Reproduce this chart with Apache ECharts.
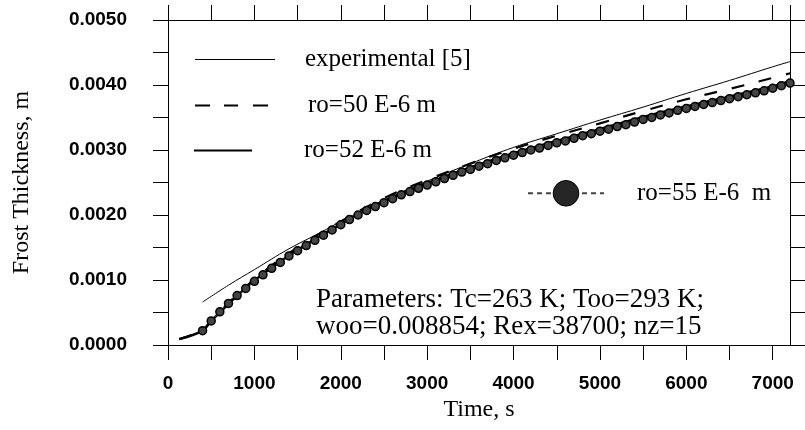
<!DOCTYPE html>
<html>
<head>
<meta charset="utf-8">
<script src="https://cdn.jsdelivr.net/npm/echarts@6/dist/echarts.min.js"></script>
<style>html,body{margin:0;padding:0;background:#fff}#c{width:805px;height:430px}</style>
</head>
<body>
<div id="c"></div>
<script>
// Experimental curve [5]
const expTime = [400, 700, 1000, 1400, 1750, 2000, 2500, 3000, 3500, 4000, 4500, 5000, 5500, 6000, 6500, 7000, 7200];
const expValue = [0.00066, 0.00092, 0.00116, 0.00148, 0.00172, 0.00190, 0.00223, 0.00252, 0.00279, 0.00304, 0.00325, 0.00346, 0.00366, 0.00387, 0.00407, 0.00428, 0.00436];

// ro = 50 E-6 m (dashed)
const r50Time = [130, 400, 500, 1000, 1500, 2000, 2500, 3000, 3500, 4000, 4500, 5000, 5500, 6000, 6500, 7000, 7200];
const r50Value = [0.00009, 0.00023, 0.00038, 0.00101, 0.00150, 0.00190, 0.00226, 0.00254, 0.00279, 0.00302, 0.00322, 0.00341, 0.00360, 0.00378, 0.00394, 0.00411, 0.00418];

// ro = 52 E-6 m (solid thick)
const r52Time = [130, 400, 500, 1000, 1500, 2000, 2500, 3000, 3500, 4000, 4500, 5000, 5500, 6000, 6500, 7000, 7200];
const r52Value = [0.00009, 0.00022, 0.00037, 0.00099, 0.00146, 0.00186, 0.00221, 0.00249, 0.00273, 0.00295, 0.00314, 0.00332, 0.00351, 0.00367, 0.00382, 0.00398, 0.00406];

// ro = 55 E-6 m (circles)
const r55Time = [400, 500, 600, 700, 800, 900, 1000, 1100, 1200, 1300, 1400, 1500, 1600, 1700, 1800, 1900,
  2000, 2100, 2200, 2300, 2400, 2500, 2600, 2700, 2800, 2900, 3000, 3100, 3200, 3300, 3400, 3500, 3600, 3700, 3800, 3900,
  4000, 4100, 4200, 4300, 4400, 4500, 4600, 4700, 4800, 4900, 5000, 5100, 5200, 5300, 5400, 5500, 5600, 5700, 5800, 5900,
  6000, 6100, 6200, 6300, 6400, 6500, 6600, 6700, 6800, 6900, 7000, 7100, 7200];
const r55Value = [0.00022, 0.00037, 0.00051, 0.00064, 0.00076, 0.00087, 0.00098, 0.00108, 0.00118, 0.00127, 0.00137, 0.00145, 0.00153, 0.00161, 0.00169, 0.00177,
  0.00185, 0.00193, 0.00200, 0.00207, 0.00213, 0.00219, 0.00225, 0.00231, 0.00236, 0.00241, 0.00246, 0.00251, 0.00256, 0.00261, 0.00266, 0.00270, 0.00275, 0.00279, 0.00284, 0.00288,
  0.00292, 0.00296, 0.00300, 0.00303, 0.00307, 0.00311, 0.00314, 0.00318, 0.00322, 0.00325, 0.00329, 0.00332, 0.00336, 0.00339, 0.00343, 0.00347, 0.00350, 0.00354, 0.00357, 0.00361,
  0.00364, 0.00367, 0.00370, 0.00373, 0.00376, 0.00379, 0.00382, 0.00385, 0.00388, 0.00391, 0.00395, 0.00399, 0.00403];

const seriesNames = ['experimental [5]', 'ro=50 E-6 m', 'ro=52 E-6 m', 'ro=55 E-6  m'];
const xLabelTicks = [0, 1000, 2000, 3000, 4000, 5000, 6000, 7000];
const paramLines = ['Parameters: Tc=263 K; Too=293 K;', 'woo=0.008854; Rex=38700; nz=15'];

const zip = (t, v) => t.map((x, i) => [x, v[i]]);

const tickFont = "'Liberation Sans', Arial, sans-serif";
const serif = "'Liberation Serif', 'Times New Roman', serif";

const chart = echarts.init(document.getElementById('c'), null, {renderer: 'canvas'});

const legendBase = {
  orient: 'horizontal', padding: 0, itemGap: 0, selectedMode: false,
  itemStyle: {borderWidth: 0},
  textStyle: {fontFamily: serif, fontSize: 25, color: '#000'}
};

const axisLineStyle = {show: true, onZero: false, lineStyle: {color: '#000', width: 1}};
const axisTickStyle = {show: true, inside: false, length: 15, lineStyle: {color: '#000', width: 1}};

const option = {
  backgroundColor: '#fff',
  animation: false,
  grid: {left: 168, right: 15, top: 20, bottom: 85, containLabel: false},
  xAxis: [{
    type: 'value', min: 0, max: 7200, interval: 500, position: 'bottom',
    name: 'Time, s', nameLocation: 'middle', nameGap: 52,
    nameTextStyle: {fontFamily: serif, fontSize: 24, color: '#000'},
    axisLine: axisLineStyle,
    axisTick: axisTickStyle,
    axisLabel: {
      margin: 29, fontFamily: tickFont, fontWeight: 'bold', fontSize: 19, color: '#000',
      formatter: v => xLabelTicks.indexOf(v) >= 0 ? String(v) : '',
      showMaxLabel: false
    },
    splitLine: {show: false}
  }, {
    type: 'value', min: 0, max: 7200, interval: 500, position: 'top',
    axisLine: axisLineStyle,
    axisTick: axisTickStyle,
    axisLabel: {show: false},
    splitLine: {show: false}
  }],
  yAxis: [{
    type: 'value', min: 0, max: 0.005, interval: 0.0005, position: 'left',
    name: 'Frost Thickness, m', nameLocation: 'middle', nameGap: 134, nameRotate: 90,
    nameTextStyle: {fontFamily: serif, fontSize: 24, color: '#000'},
    axisLine: axisLineStyle,
    axisTick: axisTickStyle,
    axisLabel: {
      margin: 41, fontFamily: tickFont, fontWeight: 'bold', fontSize: 19, color: '#000',
      formatter: v => (Math.round(v * 10000) % 10 === 0) ? v.toFixed(4) : ''
    },
    splitLine: {show: false}
  }, {
    type: 'value', min: 0, max: 0.005, interval: 0.0005, position: 'right',
    axisLine: axisLineStyle,
    axisTick: axisTickStyle,
    axisLabel: {show: false},
    splitLine: {show: false}
  }],
  legend: [
    Object.assign({}, legendBase, {
      data: [{name: seriesNames[0], icon: 'path://M0,0H80V1H0Z'}],
      left: 195, top: 47, itemWidth: 80, itemHeight: 26,
      textStyle: Object.assign({}, legendBase.textStyle, {padding: [0, 0, 0, 25]})
    }),
    Object.assign({}, legendBase, {
      data: [{name: seriesNames[1], icon: 'path://M0,0H15V2H0Z M29,0H43V2H29Z M58,0H73V2H58Z'}],
      left: 195, top: 93, itemWidth: 73, itemHeight: 26,
      textStyle: Object.assign({}, legendBase.textStyle, {padding: [0, 0, 0, 35]})
    }),
    Object.assign({}, legendBase, {
      data: [{name: seriesNames[2], icon: 'path://M0,0H58V2H0Z'}],
      left: 194, top: 138, itemWidth: 58, itemHeight: 26,
      textStyle: Object.assign({}, legendBase.textStyle, {padding: [0, 0, 0, 47]})
    }),
    Object.assign({}, legendBase, {
      data: [{name: seriesNames[3], itemStyle: {color: '#262626', borderColor: '#000', borderWidth: 1}}],
      left: 527, top: 180, itemWidth: 76, itemHeight: 32,
      textStyle: Object.assign({}, legendBase.textStyle, {padding: [0, 0, 0, 28]})
    })
  ],
  graphic: [{
    type: 'text', left: 316, top: 286, silent: true,
    style: {
      text: paramLines.join('\n'), font: "27px 'Liberation Serif', serif", fill: '#000', lineHeight: 27
    }
  }],
  series: [{
    name: seriesNames[0], type: 'line', data: zip(expTime, expValue), smooth: 0.4,
    symbol: 'none', color: '#000', z: 3,
    lineStyle: {color: '#000', width: 1}
  }, {
    name: seriesNames[1], type: 'line', data: zip(r50Time, r50Value), smooth: 0.4,
    symbol: 'none', color: '#000', z: 4,
    lineStyle: {color: '#000', width: 2.2, type: [13, 15]}
  }, {
    name: seriesNames[2], type: 'line', data: zip(r52Time, r52Value), smooth: 0.4,
    symbol: 'none', color: '#000', z: 2,
    lineStyle: {color: '#000', width: 2.5}
  }, {
    name: seriesNames[3], type: 'line', data: zip(r55Time, r55Value),
    symbol: 'circle', symbolSize: 8, showSymbol: true, color: '#3a3a3a', z: 5,
    itemStyle: {color: '#444', borderColor: '#000', borderWidth: 1.5},
    lineStyle: {color: '#444', width: 1, type: [5, 4]}
  }]
};
chart.setOption(option);
</script>
</body>
</html>
